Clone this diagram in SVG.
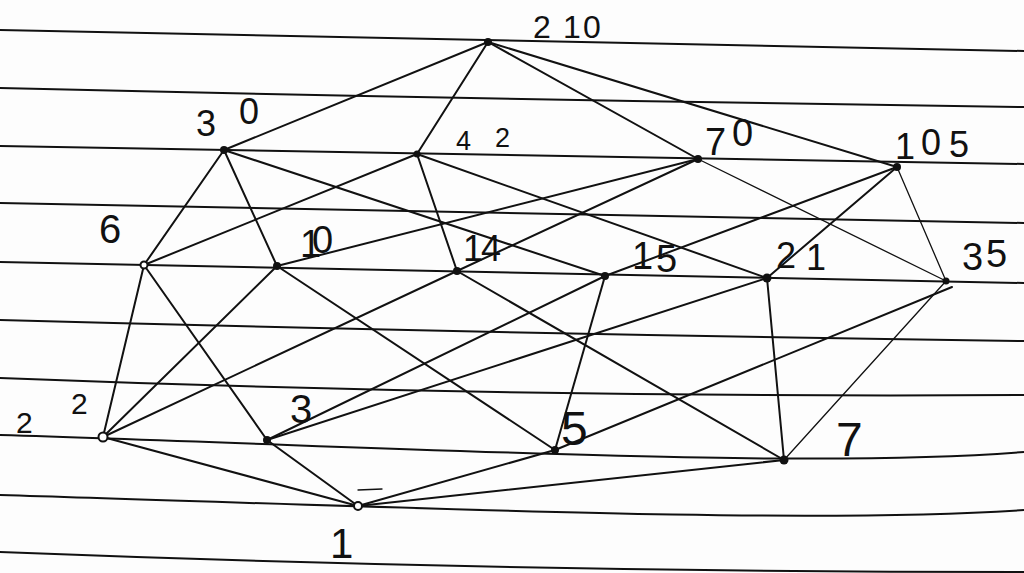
<svg xmlns="http://www.w3.org/2000/svg" width="1024" height="573" viewBox="0 0 1024 573">
<style>
.paper{fill:none;stroke:#111;stroke-width:2}
.e{stroke:#111;stroke-width:2;fill:none;stroke-linecap:round}
.t{stroke-width:1.3}
.d{fill:#111}
.o{fill:#fff;stroke:#111;stroke-width:2}
.l{font-family:"Liberation Sans",Arial,sans-serif;fill:#111}
</style>
<rect width="1024" height="573" fill="#fdfdfd"/>
<g id="paper-lines">
<path class="paper" d="M0,30 Q512,40 1024,51"/>
<path class="paper" d="M0,88 Q512,100 1024,107"/>
<path class="paper" d="M0,146 Q512,157 1024,164"/>
<path class="paper" d="M0,203 Q512,213 1024,223"/>
<path class="paper" d="M0,262 Q512,273 1024,283"/>
<path class="paper" d="M0,320 Q512,334 1024,341"/>
<path class="paper" d="M0,378 Q512,398 1024,395"/>
<path class="paper" d="M0,435 C400,447 800,470 1024,452"/>
<path class="paper" d="M0,495 C400,507 800,525 1024,510"/>
<path class="paper" d="M0,552 Q512,572 1024,572"/>
</g>
<g id="connectors">
<line class="e" x1="488" y1="42" x2="224" y2="150"/>
<line class="e" x1="488" y1="42" x2="417" y2="154"/>
<line class="e" x1="488" y1="42" x2="698" y2="159"/>
<line class="e" x1="488" y1="42" x2="897" y2="167"/>
<line class="e" x1="224" y1="150" x2="144" y2="265"/>
<line class="e" x1="224" y1="150" x2="277" y2="266"/>
<line class="e" x1="224" y1="150" x2="605" y2="276"/>
<line class="e" x1="417" y1="154" x2="144" y2="265"/>
<line class="e" x1="417" y1="154" x2="457" y2="271"/>
<line class="e" x1="417" y1="154" x2="767" y2="278"/>
<line class="e" x1="698" y1="159" x2="277" y2="266"/>
<line class="e" x1="698" y1="159" x2="457" y2="271"/>
<line class="e t" x1="698" y1="159" x2="946" y2="281"/>
<line class="e" x1="897" y1="167" x2="605" y2="276"/>
<line class="e" x1="897" y1="167" x2="767" y2="278"/>
<line class="e t" x1="897" y1="167" x2="946" y2="281"/>
<line class="e" x1="144" y1="265" x2="103" y2="437"/>
<line class="e" x1="144" y1="265" x2="267" y2="440"/>
<line class="e" x1="277" y1="266" x2="103" y2="437"/>
<line class="e" x1="277" y1="266" x2="555" y2="450"/>
<line class="e" x1="457" y1="271" x2="103" y2="437"/>
<line class="e" x1="457" y1="271" x2="784" y2="460"/>
<line class="e" x1="605" y1="276" x2="267" y2="440"/>
<line class="e" x1="605" y1="276" x2="555" y2="450"/>
<line class="e" x1="767" y1="278" x2="267" y2="440"/>
<line class="e" x1="767" y1="278" x2="784" y2="460"/>
<line class="e" x1="952" y1="287" x2="555" y2="450"/>
<line class="e t" x1="946" y1="281" x2="784" y2="460"/>
<line class="e" x1="103" y1="437" x2="358" y2="506"/>
<line class="e" x1="267" y1="440" x2="358" y2="506"/>
<line class="e" x1="555" y1="450" x2="358" y2="506"/>
<line class="e" x1="784" y1="460" x2="358" y2="506"/>
<line class="e t" x1="358" y1="490" x2="382" y2="489"/>
</g>
<g id="n210"><circle class="d" cx="488" cy="42" r="4"/><text class="l" font-size="32" x="533 563 583" y="38">210</text></g>
<g id="n30"><circle class="d" cx="224" cy="150" r="4"/><text class="l" font-size="36" x="196 225 239" y="136 136 124">3 0</text></g>
<g id="n42"><circle class="d" cx="417" cy="154" r="3.5"/><text class="l" font-size="27" x="456 495" y="150 147">42</text></g>
<g id="n70"><circle class="d" cx="698" cy="159" r="4"/><text class="l" font-size="38" x="705 732" y="155 146">70</text></g>
<g id="n105"><circle class="d" cx="897" cy="167" r="4"/><text class="l" font-size="36" x="895 921 949" y="159 155 157">105</text></g>
<g id="n6"><circle class="o" cx="144" cy="265" r="3.5"/><text class="l" font-size="40" x="99" y="243">6</text></g>
<g id="n10"><circle class="d" cx="277" cy="266" r="4"/><text class="l" font-size="38" x="300 312" y="257 253">10</text></g>
<g id="n14"><circle class="d" cx="457" cy="271" r="4"/><text class="l" font-size="36" x="463 481" y="261 261">14</text></g>
<g id="n15"><circle class="d" cx="605" cy="276" r="4"/><text class="l" font-size="38" x="632 656" y="269 272">15</text></g>
<g id="n21"><circle class="d" cx="767" cy="278" r="4.5"/><text class="l" font-size="36" x="776 806" y="268 270">21</text></g>
<g id="n35"><circle class="d" cx="946" cy="281" r="3.5"/><text class="l" font-size="38" x="962 986" y="270 267">35</text></g>
<g id="n2"><circle class="o" cx="103" cy="437" r="4.5"/><text class="l" font-size="30" x="16" y="433">2</text><text class="l" font-size="30" x="71" y="414">2</text></g>
<g id="n3"><circle class="d" cx="267" cy="440" r="4"/><text class="l" font-size="40" x="290" y="423">3</text></g>
<g id="n5"><circle class="d" cx="555" cy="450" r="4"/><text class="l" font-size="48" x="561" y="445">5</text></g>
<g id="n7"><circle class="d" cx="784" cy="460" r="4.5"/><text class="l" font-size="48" x="836" y="456">7</text></g>
<g id="n1"><circle class="o" cx="358" cy="506" r="4"/><text class="l" font-size="42" x="330" y="558">1</text></g>
</svg>
